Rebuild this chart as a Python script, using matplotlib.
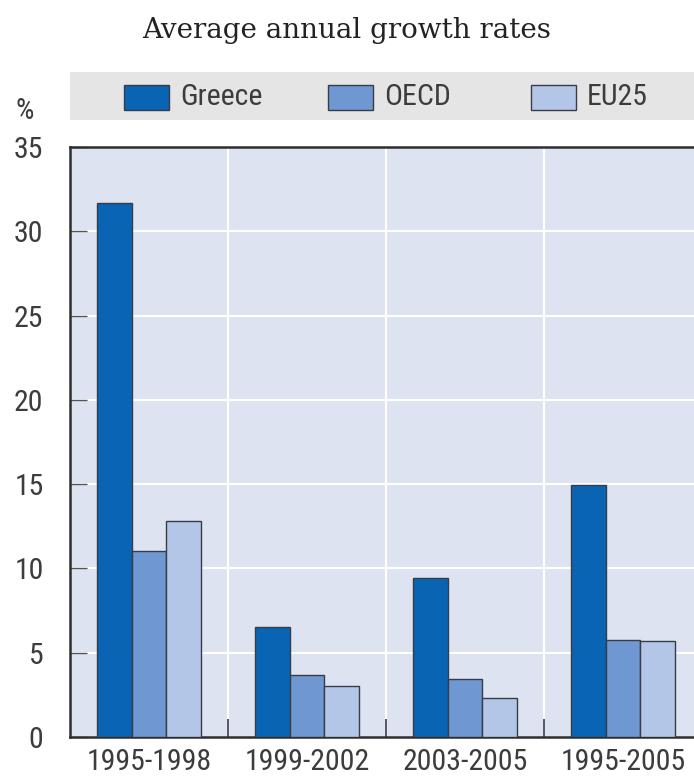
import matplotlib
matplotlib.use("Agg")
import matplotlib.pyplot as plt
from matplotlib.patches import Rectangle
from matplotlib import font_manager

categories = ["1995-1998", "1999-2002", "2003-2005", "1995-2005"]
series_names = ["Greece", "OECD", "EU25"]
greece = [31.65, 6.5, 9.45, 14.95]
oecd = [11.03, 3.68, 3.47, 5.78]
eu25 = [12.81, 3.03, 2.32, 5.68]
yticks = [0, 5, 10, 15, 20, 25, 30, 35]
title = "Average annual growth rates"

colors = ["#0a64b4", "#6f98d2", "#b3c6e7"]
edge = "#363c48"
txtcol = "#3c3c3c"

names = {f.name for f in font_manager.fontManager.ttflist}
sans = "DejaVu Sans"
for cand in ["Liberation Sans Narrow", "Arial Narrow", "Roboto Condensed", "Archivo Narrow",
             "Barlow Semi Condensed"]:
    if cand in names:
        sans = cand
        break
serif = "DejaVu Serif"
tfont = dict(fontfamily=sans, fontsize=21.5, color=txtcol)

W, H = 694, 781
fig = plt.figure(figsize=(W / 100, H / 100), dpi=100)
fig.patch.set_facecolor("white")

ax_left, ax_right, ax_top, ax_bot = 70, 702, 147, 737
ax = fig.add_axes([ax_left / W, 1 - ax_bot / H, (ax_right - ax_left) / W, (ax_bot - ax_top) / H])
ax.set_facecolor("#dde3f1")

bw = 0.22
x = list(range(len(categories)))
for i, (vals, c) in enumerate(zip([greece, oecd, eu25], colors)):
    ax.bar([xi + (i - 1) * bw for xi in x], vals, width=bw, color=c,
           edgecolor=edge, linewidth=1.0, zorder=3)

ax.set_xlim(-0.5, len(categories) - 0.5)
ax.set_ylim(0, 35)
ax.set_yticks(yticks)
ax.set_yticklabels([str(v) for v in yticks], **tfont)
ax.set_xticks(x)
ax.set_xticklabels(categories, **tfont)
ax.set_xticks([xi + 0.5 for xi in x[:-1]], minor=True)
ax.tick_params(axis="x", which="major", length=0, pad=8)
ax.tick_params(axis="x", which="minor", direction="in", length=13, width=1.2, color=edge)
ax.tick_params(axis="y", which="major", direction="in", length=12, width=1.0, color="#555555", pad=19)

for v in yticks[1:-1]:
    ax.axhline(v, color="white", linewidth=1.5, zorder=1)
for xi in x[:-1]:
    ax.axvline(xi + 0.5, color="white", linewidth=1.5, zorder=1)

for s in ["left", "top", "bottom"]:
    ax.spines[s].set_color("#2e2e2e")
    ax.spines[s].set_linewidth(1.8)
ax.spines["right"].set_visible(False)

# legend band
fig.add_artist(Rectangle((ax_left / W, 1 - 120 / H), (W - ax_left) / W, 48 / H,
                         transform=fig.transFigure, facecolor="#e5e5e5", edgecolor="none"))
patch_x = [124, 328, 531]
for px, name, c in zip(patch_x, series_names, colors):
    fig.add_artist(Rectangle((px / W, 1 - 110 / H), 45 / W, 25 / H, transform=fig.transFigure,
                             facecolor=c, edgecolor=edge, linewidth=1.0))
    fig.text((px + 56) / W, 1 - 97 / H, name, va="center", ha="left", **tfont)

fig.text(25 / W, 1 - 111 / H, "%", fontfamily=sans, fontsize=21, color=txtcol,
         ha="center", va="center")
fig.text(347 / W, 1 - 30 / H, title, fontfamily=serif, fontsize=20, color="#222222",
         ha="center", va="center")

fig.savefig("out.png", dpi=100)
